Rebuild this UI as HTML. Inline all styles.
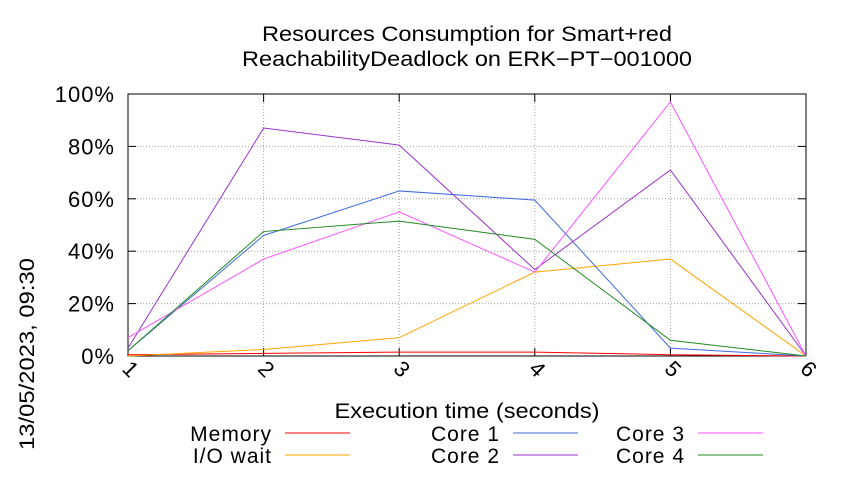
<!DOCTYPE html>
<html><head><meta charset="utf-8"><style>
body{margin:0;background:#fff;}
svg text{font-family:"Liberation Sans",sans-serif;fill:#000;}
</style></head><body>
<svg id="chart" width="850" height="475" viewBox="0 0 850 475" xmlns="http://www.w3.org/2000/svg">
<text x="467" y="41" font-size="21" text-anchor="middle" textLength="410" lengthAdjust="spacingAndGlyphs">Resources Consumption for Smart+red</text>
<text x="467" y="66" font-size="21" text-anchor="middle" textLength="450" lengthAdjust="spacingAndGlyphs">ReachabilityDeadlock on ERK−PT−001000</text>
<text transform="translate(34,450) rotate(-90)" font-size="21" textLength="192" lengthAdjust="spacingAndGlyphs">13/05/2023, 09:30</text>
<text x="467" y="418" font-size="21" text-anchor="middle" textLength="265" lengthAdjust="spacingAndGlyphs">Execution time (seconds)</text>
<g id="grid"></g>
<g id="axes"></g>
<g id="series"></g>
<g id="legend"></g>
</svg>
<script>
const xValues=[1,2,3,4,5,6];
const yTicks=[0,20,40,60,80,100];
const yTickLabels=["0%","20%","40%","60%","80%","100%"];
const memory=[0.5,1,1.5,1.5,0.5,0];
const ioWait=[0,2.5,7,32,37,0];
const core1=[2,46,63,59.5,3,0];
const core2=[3,87,80.5,33,71,0];
const core3=[7,37,55,32,97,0];
const core4=[2,47.5,51.5,44.5,6,0];
const seriesNames=["Memory","I/O wait","Core 1","Core 2","Core 3","Core 4"];
const seriesData=[memory,ioWait,core1,core2,core3,core4];
const seriesColors=["#ff0000","#ffa500","#4169e1","#9932cc","#ff55ff","#228b22"];
const NS="http://www.w3.org/2000/svg";
const L=128,R=806,T=94,B=356;
const xs=v=>L+(v-1)/5*(R-L);
const ys=v=>B-v/100*(B-T);
function mk(t,a,p){const e=document.createElementNS(NS,t);for(const k in a)e.setAttribute(k,a[k]);p.appendChild(e);return e;}
const grid=document.getElementById('grid'),axes=document.getElementById('axes'),ser=document.getElementById('series'),leg=document.getElementById('legend');
yTicks.forEach((t,i)=>{
  const y=ys(t);
  if(t>0&&t<100){const g=mk('line',{x1:L,x2:R,y1:y,y2:y,stroke:'#a0a0a0','stroke-dasharray':'1,2','stroke-width':1},grid);}
  const tx=mk('text',{x:L-13,y:y+8,'font-size':22,'text-anchor':'end','letter-spacing':'1'},axes);tx.textContent=yTickLabels[i];
  
  
  mk('line',{x1:L,x2:L+8,y1:y,y2:y,stroke:'#000'},axes);
  mk('line',{x1:R,x2:R-8,y1:y,y2:y,stroke:'#000'},axes);
});
xValues.forEach(v=>{
  const x=xs(v);
  if(v>1&&v<6){const g=mk('line',{x1:x,x2:x,y1:T,y2:B,stroke:'#a0a0a0','stroke-dasharray':'1,2','stroke-width':1},grid);}
  mk('line',{x1:x,x2:x,y1:B,y2:B-8,stroke:'#000'},axes);
  mk('line',{x1:x,x2:x,y1:T,y2:T+8,stroke:'#000'},axes);
  const tx=mk('text',{transform:`translate(${x-7},${B+14}) rotate(45)`,'font-size':22},axes);tx.textContent=v;
  
  
});
mk('rect',{x:L,y:T,width:R-L,height:B-T,fill:'none',stroke:'#000','stroke-width':1},axes);
seriesData.forEach((d,i)=>{
  const pl=mk('polyline',{points:d.map((v,j)=>xs(xValues[j])+','+ys(v)).join(' '),fill:'none',stroke:seriesColors[i],'stroke-width':1},ser);
  
  
});
const legCols=[272,500,685],legRows=[433,455];
seriesData.forEach((d,i)=>{
  const c=Math.floor(i/2),r=i%2;
  const tx=mk('text',{x:legCols[c],y:legRows[r]+8,'font-size':21,'text-anchor':'end','letter-spacing':'1'},leg);tx.textContent=seriesNames[i];
  
  
  const ln=mk('line',{x1:legCols[c]+13,x2:legCols[c]+78,y1:legRows[r],y2:legRows[r],stroke:seriesColors[i]},leg);
  
  
});
</script>
</body></html>
